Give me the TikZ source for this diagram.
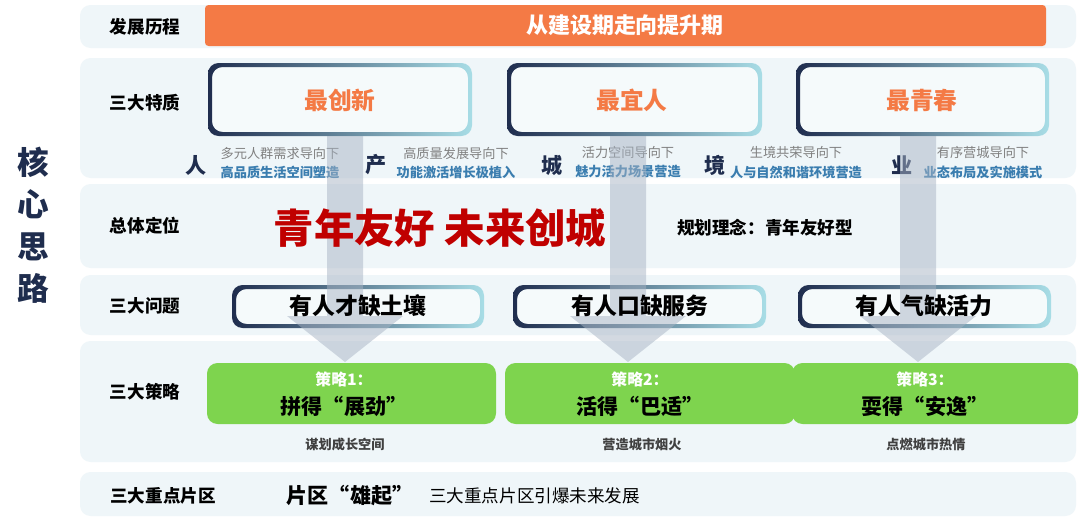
\documentclass[tikz,border=0pt]{standalone}
\usepackage{fontspec}
\setmainfont{Noto Sans CJK SC}
\usetikzlibrary{positioning}
\definecolor{bandbg}{HTML}{EFF6F9}
\definecolor{navy}{HTML}{1F2D4E}
\definecolor{orng}{HTML}{F47A45}
\definecolor{linkblue}{HTML}{3A7DAF}
\definecolor{redtitle}{HTML}{C00000}
\definecolor{leaf}{HTML}{7ED44E}
\definecolor{arrowgray}{HTML}{A8B4C4}
\definecolor{cyanlite}{HTML}{A8DDE6}
\tikzset{
  band/.style={fill=bandbg, draw=none, rounded corners=6},
  rowlabel/.style={font=\bfseries\fontsize{10}{12}\selectfont, text=black},
  quality/.style={font=\bfseries\fontsize{13.5}{15}\selectfont, text=orng},
  bigchar/.style={font=\bfseries\fontsize{12}{14}\selectfont, text=navy},
  greytip/.style={font=\fontsize{7.5}{9}\selectfont, text=gray},
  bluetip/.style={font=\bfseries\fontsize{7.5}{9}\selectfont, text=linkblue},
  problem/.style={font=\bfseries\fontsize{13}{15}\selectfont},
  plantag/.style={font=\bfseries\fontsize{9}{11}\selectfont, text=white},
  planname/.style={font=\bfseries\fontsize{12}{14}\selectfont},
  plannote/.style={font=\bfseries\fontsize{7.5}{9}\selectfont, text=black!75}
}
% framed box with navy-to-cyan border
\newcommand{\gradframe}[4]{%
  \fill[bandbg!60, rounded corners=6] (#1,#2) rectangle (#3,#4);
  \shade[left color=navy, right color=cyanlite, even odd rule, rounded corners=6]
    (#1,#2) rectangle (#3,#4) (#1+4,#2+4) rectangle (#3-4,#4-4);}
\begin{document}
\begin{tikzpicture}[x=0.02cm, y=-0.02cm]
  \useasboundingbox[fill=white] (0,0) rectangle (1080,524);
  % bands
  \fill[band] (80,5) rectangle (1076,48);
  \fill[band] (80,58) rectangle (1076,178);
  \fill[band] (80,184) rectangle (1076,268);
  \fill[band] (80,275) rectangle (1076,335);
  \fill[band] (80,341) rectangle (1076,462);
  \fill[band] (80,472) rectangle (1076,516);

  % left title
  \node[font=\bfseries\fontsize{18}{24}\selectfont, text=navy, align=center] (core) at (33,225) {核\\心\\思\\路};

  % row labels
  \node[rowlabel] (lbl1) at (145,27) {发展历程};
  \node[rowlabel] (lbl2) at (145,103) {三大特质};
  \node[rowlabel] (lbl3) at (145,226) {总体定位};
  \node[rowlabel] (lbl4) at (145,306) {三大问题};
  \node[rowlabel] (lbl5) at (145,392) {三大策略};
  \node[rowlabel] (lbl6) at (163,496) {三大重点片区};

  % stage bar
  \fill[orng, rounded corners=2] (205,5) rectangle (1046,46);
  \node[font=\bfseries\fontsize{12.5}{14}\selectfont, text=white] (stage) at (625,25) {从建设期走向提升期};

  % qualities
  \gradframe{208}{63}{472}{136}
  \gradframe{507}{63}{762}{136}
  \gradframe{796}{63}{1049}{136}
  \node[quality] (q1) at (340,100) {最创新};
  \node[quality] (q2) at (632,100) {最宜人};
  \node[quality] (q3) at (922,100) {最青春};

  % orientations
  \node[bigchar] (c1) at (196,165) {人};
  \node[greytip] (g1) at (280,153) {多元人群需求导向下};
  \node[bluetip] (b1) at (280,172) {高品质生活空间塑造};
  \node[bigchar] (c2) at (376,165) {产};
  \node[greytip] (g2) at (456,153) {高质量发展导向下};
  \node[bluetip] (b2) at (456,172) {功能激活增长极植入};
  \node[bigchar] (c3) at (552,165) {城};
  \node[greytip] (g3) at (628,152) {活力空间导向下};
  \node[bluetip] (b3) at (628,171) {魅力活力场景营造};
  \node[bigchar] (c4) at (715,165) {境};
  \node[greytip] (g4) at (796,152) {生境共荣导向下};
  \node[bluetip] (b4) at (796,172) {人与自然和谐环境营造};
  \node[bigchar] (c5) at (902,165) {业};
  \node[greytip] (g5) at (983,152) {有序营城导向下};
  \node[bluetip] (b5) at (983,172) {业态布局及实施模式};

  % problems
  \gradframe{232}{285}{484}{328}
  \gradframe{513}{285}{766}{328}
  \gradframe{798}{285}{1051}{328}

  % down arrows
  \foreach \ax in {345,628,918}
    \fill[arrowgray, opacity=0.5] (\ax-18,136) -- (\ax+18,136) -- (\ax+18,316)
      -- (\ax+58,316) -- (\ax,362) -- (\ax-58,316) -- (\ax-18,316) -- cycle;

  % positioning
  \node[font=\bfseries\fontsize{23}{26}\selectfont, text=redtitle] (slogan) at (440,228) {青年友好 未来创城};
  \node[font=\bfseries\fontsize{10}{12}\selectfont] (idea) at (765,228) {规划理念：青年友好型};

  \node[problem] (p1) at (358,306) {有人才缺土壤};
  \node[problem] (p2) at (640,306) {有人口缺服务};
  \node[problem] (p3) at (924,306) {有人气缺活力};

  % strategies
  \fill[leaf, rounded corners=6] (207,363) rectangle (496,424);
  \fill[leaf, rounded corners=6] (505,363) rectangle (795,424);
  \fill[leaf, rounded corners=6] (792,363) rectangle (1078,424);
  \node[plantag] (t1) at (344,379) {策略1：};
  \node[planname] (s1) at (344,406) {拼得“展劲”};
  \node[plantag] (t2) at (640,379) {策略2：};
  \node[planname] (s2) at (640,406) {活得“巴适”};
  \node[plantag] (t3) at (925,379) {策略3：};
  \node[planname] (s3) at (925,406) {耍得“安逸”};
  \node[plannote] (n1) at (345,444) {谋划成长空间};
  \node[plannote] (n2) at (642,444) {营造城市烟火};
  \node[plannote] (n3) at (926,444) {点燃城市热情};

  % districts
  \node[font=\bfseries\fontsize{12}{14}\selectfont] (rise) at (350,496) {片区“雄起”};
  \node[font=\fontsize{10}{12}\selectfont, right=2pt of rise] (boost) {三大重点片区引爆未来发展};
\end{tikzpicture}
\end{document}
